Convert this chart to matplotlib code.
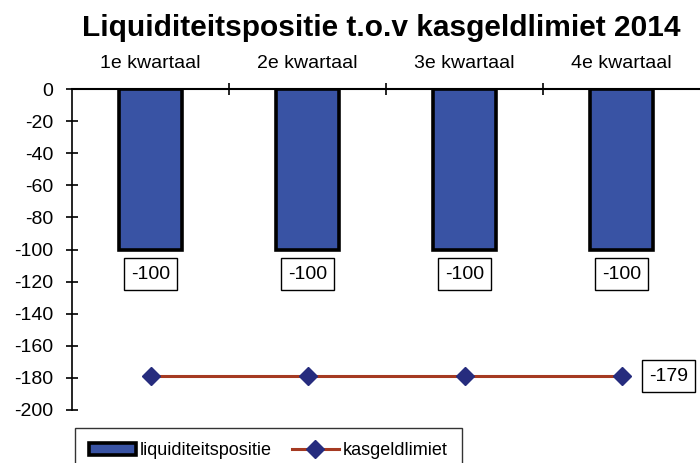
import matplotlib
matplotlib.use("Agg")
import matplotlib.pyplot as plt
import numpy as np

plt.rcParams['font.family'] = ['Liberation Sans', 'DejaVu Sans']

categories = ["1e kwartaal", "2e kwartaal", "3e kwartaal", "4e kwartaal"]
liquiditeit = [-100, -100, -100, -100]
kasgeld = [-179, -179, -179, -179]
yticks = [0, -20, -40, -60, -80, -100, -120, -140, -160, -180, -200]
title = "Liquiditeitspositie t.o.v kasgeldlimiet 2014"

bar_color = "#3953a4"
line_color = "#a53a22"
marker_color = "#262c7e"

fig = plt.figure(figsize=(7.0, 4.63), dpi=100)
ax = fig.add_axes([72/700, 1-410/463, 1-72/700, (410-89)/463])
x = np.arange(len(categories))

bars = ax.bar(x, liquiditeit, width=0.4, color=bar_color, edgecolor="black",
              linewidth=2.6, label="liquiditeitspositie", zorder=3)
ln, = ax.plot(x, kasgeld, color=line_color, linewidth=2.2, marker="D",
              markersize=9, markerfacecolor=marker_color, markeredgecolor=marker_color,
              label="kasgeldlimiet", zorder=4)

ax.set_xlim(-0.5, len(categories) - 0.5)
ax.set_ylim(-200, 0)
ax.set_yticks(yticks)
ax.set_yticklabels([str(v) for v in yticks], fontsize=14)
ax.tick_params(axis="y", direction="inout", length=9, width=1.2, pad=9)

ax.xaxis.tick_top()
ax.set_xticks(x)
ax.set_xticklabels(categories, fontsize=14)
ax.set_xticks(np.arange(0.5, len(categories) - 0.5, 1.0), minor=True)
ax.tick_params(axis="x", which="major", length=0, pad=12)
ax.tick_params(axis="x", which="minor", direction="inout", length=9, width=1.2, top=True, bottom=False)

for s in ["right", "bottom"]:
    ax.spines[s].set_visible(False)
ax.spines["left"].set_linewidth(1.2)
ax.spines["top"].set_linewidth(1.5)
ax.patch.set_alpha(0)

box = dict(boxstyle="square,pad=0.38", facecolor="white", edgecolor="black", linewidth=1)
for xi, v in zip(x, liquiditeit):
    ax.text(xi, v - 15.5, str(v), ha="center", va="center", fontsize=14, bbox=box)
ax.text(x[-1] + 0.30, kasgeld[-1], str(kasgeld[-1]), ha="center", va="center",
        fontsize=14, bbox=box)

fig.text(381/700, 1-28/463, title, ha="center", va="center", fontsize=21.5, fontweight="bold")

leg = fig.legend(handles=[bars, ln], loc="upper left", bbox_to_anchor=(75/700, 1-428/463),
                 ncol=2, frameon=True, fancybox=False, fontsize=13, handlelength=2.6,
                 handletextpad=0.2, columnspacing=1.1, borderpad=0.8, borderaxespad=0)
leg.get_frame().set_edgecolor("black")
leg.get_frame().set_linewidth(1)

fig.savefig("out.png", dpi=100)
